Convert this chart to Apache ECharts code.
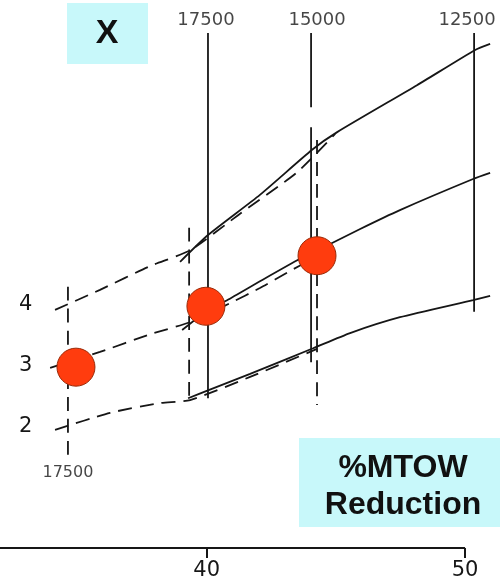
<!DOCTYPE html>
<html>
<head>
<meta charset="utf-8">
<script src="https://cdn.jsdelivr.net/npm/echarts@6/dist/echarts.min.js"></script>
<style>html,body{margin:0;padding:0;background:#fff}#c{width:502px;height:584px}</style>
</head>
<body>
<div id="c"></div>
<script>
// ---- data (x: %MTOW reduction, y: X) ----
const xTicks = [40, 50];
const xAxisSpan = [32, 50];
const yTicks = [2, 3, 4];
const weightLabels = ['17500', '15000', '12500'];
const weightX = [40.05, 44.04, 50.35];
const weightTopY = 8.46;
const leftWeightLabel = '17500';
const leftWeightX = 34.63;
const leftWeightBottomY = 1.45;

// solid curves
const upperSolid = [[38.97,4.70],[40.05,5.14],[42.06,5.80],[44.08,6.54],[45.05,6.83],[48.14,7.60],[50.39,8.18],[50.97,8.28]];
const middleSolid = [[39.05,3.58],[40.05,3.91],[40.79,4.07],[42.06,4.38],[43.61,4.75],[44.39,4.91],[45.94,5.24],[47.48,5.55],[50.31,6.06],[50.97,6.16]];
const lowerSolid = [[39.28,2.46],[40.05,2.59],[41.68,2.86],[44.12,3.28],[45.55,3.53],[47.48,3.79],[50.31,4.07],[50.97,4.14]];
// dashed curves
const upperDashed = [[34.13,3.91],[35.87,4.24],[37.81,4.63],[39.36,4.89],[41.29,5.49],[43.50,6.17],[44.97,6.80]];
const middleDashed = [[33.94,2.96],[35.87,3.22],[37.81,3.51],[39.36,3.71],[40.90,4.02],[42.06,4.27],[43.23,4.55],[44.00,4.73]];
const lowerDashed = [[34.13,1.94],[36.26,2.22],[38.19,2.38],[39.36,2.43],[41.68,2.81],[44.27,3.27]];
// vertical weight lines
const v17500Solid = [[40.05,8.46],[40.05,2.46]];
const v15000SolidTop = [[44.04,8.46],[44.04,7.24]];
const v15000Solid = [[44.04,6.91],[44.04,3.05]];
const v12500Solid = [[50.35,8.46],[50.35,3.88]];
const vLeftDashed = [[34.63,4.29],[34.63,1.45]];
const v17500Dashed = [[39.32,5.26],[39.32,2.40]];
const v15000Dashed = [[44.27,6.70],[44.27,2.35]];
// highlighted points
const points = [[34.94,2.97],[39.97,3.97],[44.27,4.80]];

const INK = '#161616';
const solid = (d, w) => ({type:'line', data:d, showSymbol:false, clip:false, smooth:0.2,
  lineStyle:{color:INK, width:w || 1.8}, silent:true, z:2});
const dashed = (d) => ({type:'line', data:d, showSymbol:false, clip:false, smooth:0.2,
  lineStyle:{color:INK, width:1.8, type:[14,8]}, silent:true, z:2});
// nudge the right-most label so it stays inside the canvas
const labelOffsets = [[-2,0],[6,0],[-7,0]];

const chart = echarts.init(document.getElementById('c'));
chart.setOption({
  animation:false,
  backgroundColor:'#fff',
  grid:{left:0, right:0, top:0, bottom:36},
  xAxis:{type:'value', min:32, max:51.43,
    axisLine:{show:false},
    axisTick:{show:true, customValues:xTicks, length:10, lineStyle:{color:INK, width:2}},
    axisLabel:{customValues:xTicks, margin:12, fontSize:21, color:INK, fontFamily:'DejaVu Sans'},
    splitLine:{show:false}},
  yAxis:{type:'value', min:0, max:9,
    axisLine:{show:false}, axisTick:{show:false}, splitLine:{show:false},
    axisLabel:{customValues:yTicks, inside:true, margin:19, fontSize:21, color:INK,
      fontFamily:'DejaVu Sans', padding:[14,0,0,0]}},
  graphic:[
    {type:'rect', shape:{x:67,y:3,width:81,height:61}, style:{fill:'#c8f8fa'}, z:5},
    {type:'text', x:107, y:34, style:{text:'X', font:'bold 34px "Liberation Sans", Arial',
      fill:'#111', align:'center', verticalAlign:'middle'}, z:6},
    {type:'rect', shape:{x:299,y:438,width:201,height:89}, style:{fill:'#c8f8fa'}, z:5},
    {type:'text', x:403, y:468, style:{text:'%MTOW', font:'bold 32px "Liberation Sans", Arial',
      fill:'#111', align:'center', verticalAlign:'middle'}, z:6},
    {type:'text', x:403, y:505, style:{text:'Reduction', font:'bold 32px "Liberation Sans", Arial',
      fill:'#111', align:'center', verticalAlign:'middle'}, z:6}
  ],
  series:[
    {type:'line', data:xAxisSpan.map(v=>[v,0]), showSymbol:false, clip:false, silent:true,
      lineStyle:{color:INK, width:2}, z:3},
    solid(upperSolid), solid(middleSolid), solid(lowerSolid),
    dashed(upperDashed), dashed(middleDashed), dashed(lowerDashed),
    solid(v17500Solid), solid(v15000SolidTop), solid(v15000Solid), solid(v12500Solid),
    dashed(vLeftDashed), dashed(v17500Dashed), dashed(v15000Dashed),
    {type:'scatter', clip:false, symbolSize:1, itemStyle:{color:'transparent'}, silent:true,
      data: weightLabels.map((t,i)=>({value:[weightX[i], weightTopY], name:t,
        label:{offset:labelOffsets[i]}})),
      label:{show:true, position:'top', distance:3, formatter:'{b}', fontSize:18,
        color:INK, fontFamily:'DejaVu Sans'}},
    {type:'scatter', clip:false, symbolSize:1, itemStyle:{color:'transparent'}, silent:true,
      data:[{value:[leftWeightX, leftWeightBottomY], name:leftWeightLabel}],
      label:{show:true, position:'bottom', distance:5, formatter:'{b}', fontSize:16,
        color:INK, fontFamily:'DejaVu Sans'}},
    {type:'scatter', clip:false, data:points, symbolSize:38, z:10, silent:true,
      itemStyle:{color:'#ff3c0e', borderColor:'#9a2a08', borderWidth:1, opacity:1}}
  ]
});
</script>
</body>
</html>
